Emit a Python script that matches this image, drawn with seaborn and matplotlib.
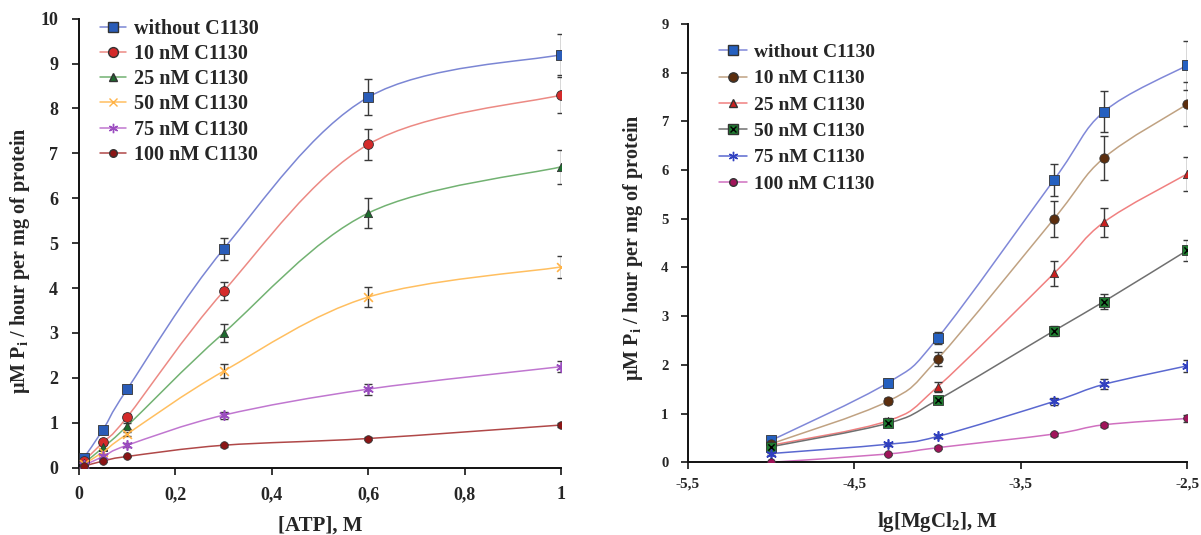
import numpy as np
import seaborn as sns
import matplotlib
matplotlib.use("Agg")
import matplotlib.pyplot as plt
from matplotlib.path import Path
from matplotlib.patches import PathPatch
from matplotlib.lines import Line2D
from matplotlib.ticker import FuncFormatter

sns.set_theme(style="ticks")
plt.rcParams["font.family"] = ["Liberation Serif", "DejaVu Serif"]
plt.rcParams["font.weight"] = "bold"
plt.rcParams["mathtext.fontset"] = "custom"
plt.rcParams["mathtext.rm"] = "Liberation Serif:bold"
plt.rcParams["mathtext.it"] = "Liberation Serif:italic:bold"
plt.rcParams["mathtext.bf"] = "Liberation Serif:bold"

labels = ["without C1130", "10 nM C1130", "25 nM C1130",
          "50 nM C1130", "75 nM C1130", "100 nM C1130"]

# left panel: activity vs [ATP]
atp = [0.01, 0.05, 0.1, 0.3, 0.6, 1.0]
atp_vals = [
    [0.22, 0.85, 1.75, 4.87, 8.25, 9.2],
    [0.15, 0.57, 1.13, 3.93, 7.2, 8.3],
    [0.10, 0.45, 0.93, 3.0, 5.67, 6.7],
    [0.08, 0.35, 0.75, 2.15, 3.8, 4.47],
    [0.05, 0.25, 0.50, 1.17, 1.75, 2.25],
    [0.03, 0.15, 0.25, 0.50, 0.65, 0.95],
]
atp_err = [
    [0.03, 0.06, 0.08, 0.25, 0.40, 0.45],
    [0.03, 0.05, 0.07, 0.20, 0.35, 0.40],
    [0.02, 0.05, 0.06, 0.20, 0.33, 0.38],
    [0.02, 0.04, 0.05, 0.15, 0.23, 0.25],
    [0.02, 0.03, 0.04, 0.08, 0.12, 0.12],
    [0.01, 0.02, 0.02, 0.03, 0.04, 0.05],
]

# right panel: activity vs lg[MgCl2]
mg = [-5.0, -4.3, -4.0, -3.3, -3.0, -2.5]
mg_vals = [
    [0.45, 1.63, 2.55, 5.8, 7.2, 8.15],
    [0.38, 1.25, 2.12, 5.0, 6.25, 7.35],
    [0.35, 0.85, 1.55, 3.88, 4.93, 5.92],
    [0.32, 0.80, 1.28, 2.70, 3.30, 4.35],
    [0.18, 0.37, 0.53, 1.25, 1.60, 1.98],
    [0.00, 0.17, 0.30, 0.58, 0.77, 0.90],
]
mg_err = [
    [0.05, 0.07, 0.12, 0.33, 0.42, 0.50],
    [0.04, 0.06, 0.15, 0.37, 0.45, 0.45],
    [0.03, 0.05, 0.10, 0.25, 0.30, 0.35],
    [0.03, 0.05, 0.05, 0.10, 0.15, 0.22],
    [0.02, 0.03, 0.04, 0.07, 0.10, 0.13],
    [0.01, 0.02, 0.03, 0.03, 0.04, 0.07],
]

# styles: (line colour, marker, face colour, size)
left_styles = [
    ("#7b86d4", "s", "#2a5cb8", 45),
    ("#ec8a84", "o", "#d42a2a", 50),
    ("#72b272", "^", "#1d6b2e", 35),
    ("#ffbf60", "x", "#ffb347", 40),
    ("#c077d0", (6, 2, 0), "#9b4dc0", 45),
    ("#b04848", "o", "#8b1515", 30),
]
right_styles = [
    ("#8088d8", "s", "#2560c0", 45),
    ("#c0a282", "o", "#5c2e0e", 45),
    ("#f08080", "^", "#cc2020", 35),
    ("#707070", "s", "#1f7a30", 45),
    ("#5a68d0", (6, 2, 0), "#3040c0", 45),
    ("#d070c0", "o", "#a0145a", 30),
]


def smooth_line(ax, xs, ys, color):
    # Excel-like smoothed line: Catmull-Rom as cubic Bezier segments
    pts = np.column_stack([xs, ys]).astype(float)
    ext = np.vstack([pts[0], pts, pts[-1]])
    verts = [tuple(pts[0])]
    codes = [Path.MOVETO]
    for i in range(len(pts) - 1):
        p0, p1, p2, p3 = ext[i], ext[i + 1], ext[i + 2], ext[i + 3]
        c1 = p1 + (p2 - p0) / 6
        c2 = p2 - (p3 - p1) / 6
        verts += [tuple(c1), tuple(c2), tuple(p2)]
        codes += [Path.CURVE4] * 3
    ax.add_patch(PathPatch(Path(verts, codes), fill=False, edgecolor=color,
                           lw=1.1, zorder=2))


def draw_panel(ax, xs, vals, errs, styles, cross_idx=None):
    handles = []
    for k, (ys, es, st) in enumerate(zip(vals, errs, styles)):
        lc, mk, fc, sz = st
        smooth_line(ax, xs, ys, lc)
        ax.errorbar(xs, ys, yerr=es, fmt="none", ecolor="#3a3a3a",
                    elinewidth=1, capsize=3, capthick=1, zorder=3)
        filled = mk in ("s", "o", "^")
        if filled:
            sns.scatterplot(x=xs, y=ys, marker=mk, s=sz, color=fc,
                            edgecolor="#333333", linewidth=0.6, ax=ax,
                            zorder=4, legend=False)
        else:
            sns.scatterplot(x=xs, y=ys, marker=mk, s=sz, color=fc,
                            linewidth=1.2, ax=ax, zorder=4, legend=False)
        h = Line2D([], [], color=lc, lw=1.1, marker=mk, markersize=np.sqrt(sz),
                   markerfacecolor=fc,
                   markeredgecolor="#333333" if filled else fc)
        if k == cross_idx:
            sns.scatterplot(x=xs, y=ys, marker="x", s=sz * 0.45, color="black",
                            linewidth=1.0, ax=ax, zorder=5, legend=False)
            hx = Line2D([], [], ls="none", marker="x", color="black",
                        markersize=np.sqrt(sz * 0.45), markeredgewidth=1.0)
            h = (h, hx)
        handles.append(h)
    return handles


fig = plt.figure(figsize=(12.01, 5.35), dpi=100)
ax1 = fig.add_axes([0.0658, 0.1258, 0.4013, 0.8393])
ax2 = fig.add_axes([0.5729, 0.1359, 0.4155, 0.8193])

comma = FuncFormatter(lambda v, p: f"{v:g}".replace(".", ","))
ylab = "µM P$_\\mathrm{i}$ / hour per mg of protein"

h1 = draw_panel(ax1, atp, atp_vals, atp_err, left_styles)
ax1.set_xlim(0, 1)
ax1.set_ylim(0, 10)
ax1.set_xticks(np.arange(0, 1.01, 0.2))
ax1.set_yticks(range(0, 11))
ax1.xaxis.set_major_formatter(comma)
ax1.tick_params(axis="y", labelsize=13, pad=10, length=5, width=1.3)
ax1.tick_params(axis="x", labelsize=13, pad=8, length=5, width=1.3)
ax1.set_xlabel("[ATP], M", fontsize=15, fontweight="bold")
ax1.set_ylabel(ylab, fontsize=14.5, fontweight="bold")
ax1.xaxis.set_label_coords(0.5, -0.106)
ax1.yaxis.set_label_coords(-0.0975, 0.462)
ax1.legend(h1, labels, loc="upper left", bbox_to_anchor=(0.083, 0.965),
           bbox_transform=fig.transFigure, frameon=False, fontsize=14.5,
           borderpad=0, borderaxespad=0, handlelength=1.3,
           handletextpad=0.4, labelspacing=0.26)

h2 = draw_panel(ax2, mg, mg_vals, mg_err, right_styles, cross_idx=3)
ax2.set_xlim(-5.5, -2.5)
ax2.set_ylim(0, 9)
ax2.set_xticks([-5.5, -4.5, -3.5, -2.5])
ax2.set_yticks(range(0, 10))
ax2.xaxis.set_major_formatter(comma)
ax2.tick_params(axis="y", labelsize=10.5, pad=9, length=5, width=1.3)
ax2.tick_params(axis="x", labelsize=11, pad=6, length=5, width=1.3)
ax2.set_xlabel("lg[MgCl$_\\mathrm{2}$], M", fontsize=15, fontweight="bold")
ax2.set_ylabel(ylab, fontsize=14.5, fontweight="bold")
ax2.xaxis.set_label_coords(0.5, -0.108)
ax2.yaxis.set_label_coords(-0.086, 0.49)
ax2.legend(h2, labels, loc="upper left", bbox_to_anchor=(0.599, 0.919),
           bbox_transform=fig.transFigure, frameon=False, fontsize=14,
           borderpad=0, borderaxespad=0, handlelength=1.4,
           handletextpad=0.4, labelspacing=0.45)

for ax in (ax1, ax2):
    sns.despine(ax=ax)
    for s in ("left", "bottom"):
        ax.spines[s].set_linewidth(1.4)
        ax.spines[s].set_color("#111111")

fig.savefig("out.png", dpi=100)
